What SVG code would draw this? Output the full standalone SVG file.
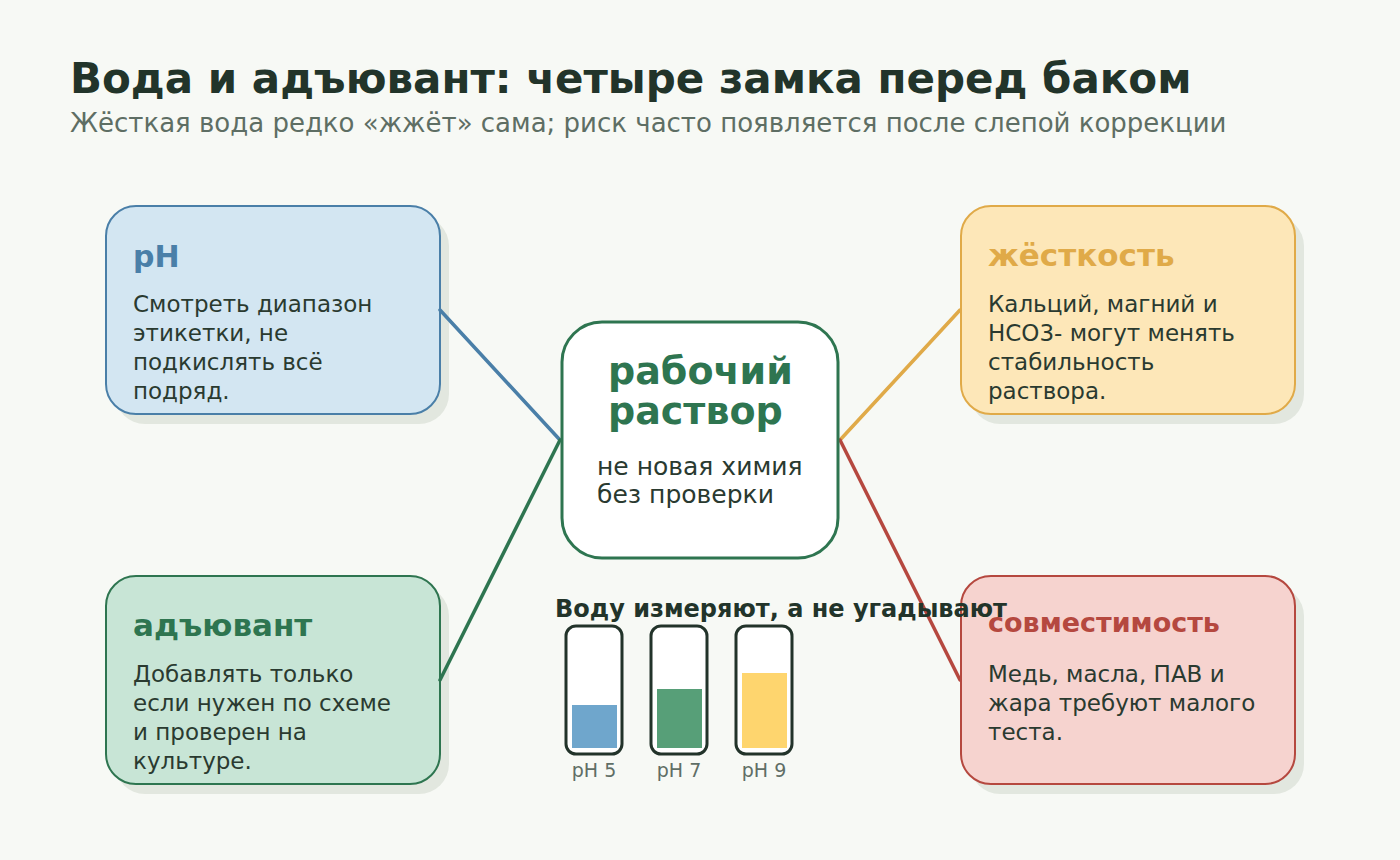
<svg xmlns="http://www.w3.org/2000/svg" width="1400" height="860" viewBox="0 0 1400 860">
<style>
text { font-family: "DejaVu Sans", "Liberation Sans", sans-serif; }
.title { font-size: 42px; font-weight: bold; fill: #22342a; }
.sub { font-size: 26px; fill: #5e6e64; }
.shadow { fill: #e2e7df; }
.body { font-size: 23px; fill: #2a3a30; }
.ntitle { font-weight: bold; }
.conn { fill: none; stroke-width: 3.5; stroke-linecap: round; }
.tube { fill: #ffffff; stroke: #22332a; stroke-width: 3; }
.tlabel { font-size: 19px; fill: #5f6e66; text-anchor: middle; }
</style>
<rect width="1400" height="860" fill="#f7f9f5"/>
<text class="title" x="70" y="93">Вода и адъювант: четыре замка перед баком</text>
<text class="sub" x="70" y="132">Жёсткая вода редко «жжёт» сама; риск часто появляется после слепой коррекции</text>

<g id="node-ph">
<rect class="shadow" x="115" y="216" width="334" height="208" rx="30"/>
<rect x="106" y="206" width="334" height="208" rx="30" fill="#d3e6f2" stroke="#4a7fa8" stroke-width="2"/>
<text class="ntitle" x="133" y="267" font-size="30" fill="#4a7fa8">pH</text>
<text class="body" x="133" y="312">Смотреть диапазон</text>
<text class="body" x="133" y="341">этикетки, не</text>
<text class="body" x="133" y="370">подкислять всё</text>
<text class="body" x="133" y="399">подряд.</text>
</g>

<g id="node-hardness">
<rect class="shadow" x="970" y="216" width="334" height="208" rx="30"/>
<rect x="961" y="206" width="334" height="208" rx="30" fill="#fde7b8" stroke="#e0aa48" stroke-width="2"/>
<text class="ntitle" x="988" y="266" font-size="31" fill="#e0aa48">жёсткость</text>
<text class="body" x="988" y="312">Кальций, магний и</text>
<text class="body" x="988" y="341">HCO3- могут менять</text>
<text class="body" x="988" y="370">стабильность</text>
<text class="body" x="988" y="399">раствора.</text>
</g>

<g id="node-adjuvant">
<rect class="shadow" x="115" y="586" width="334" height="208" rx="30"/>
<rect x="106" y="576" width="334" height="208" rx="30" fill="#c8e5d6" stroke="#2e7550" stroke-width="2"/>
<text class="ntitle" x="133" y="636" font-size="31" fill="#2e7550">адъювант</text>
<text class="body" x="133" y="682">Добавлять только</text>
<text class="body" x="133" y="711">если нужен по схеме</text>
<text class="body" x="133" y="740">и проверен на</text>
<text class="body" x="133" y="769">культуре.</text>
</g>

<g id="node-compat">
<rect class="shadow" x="970" y="586" width="334" height="208" rx="30"/>
<rect x="961" y="576" width="334" height="208" rx="30" fill="#f6d3cf" stroke="#b5483f" stroke-width="2"/>
<text class="ntitle" x="988" y="632" font-size="27" fill="#b5483f">совместимость</text>
<text class="body" x="988" y="682">Медь, масла, ПАВ и</text>
<text class="body" x="988" y="711">жара требуют малого</text>
<text class="body" x="988" y="740">теста.</text>
</g>

<g id="connectors">
<line class="conn" x1="440" y1="310" x2="560" y2="440" stroke="#4a7fa8"/>
<line class="conn" x1="440" y1="680" x2="560" y2="440" stroke="#2e7550"/>
<line class="conn" x1="960" y1="310" x2="840" y2="440" stroke="#e0aa48"/>
<line class="conn" x1="960" y1="680" x2="840" y2="440" stroke="#b5483f"/>
</g>

<g id="node-center">
<rect x="562" y="322" width="276" height="236" rx="40" fill="#ffffff" stroke="#2e7550" stroke-width="3"/>
<text x="608" y="384" font-size="38" font-weight="bold" fill="#2e7550">рабочий</text>
<text x="608" y="424" font-size="38" font-weight="bold" fill="#2e7550">раствор</text>
<text x="597" y="475" font-size="25" fill="#2a3a30">не новая химия</text>
<text x="597" y="503" font-size="25" fill="#2a3a30">без проверки</text>
</g>

<g id="gauges">
<text x="555" y="617" font-size="24" font-weight="bold" fill="#22342a">Воду измеряют, а не угадывают</text>
<rect class="tube" x="566" y="626" width="56" height="128" rx="10"/>
<rect x="572" y="705" width="45" height="43" fill="#6fa6cc"/>
<rect class="tube" x="651" y="626" width="56" height="128" rx="10"/>
<rect x="657" y="689" width="45" height="59" fill="#579f78"/>
<rect class="tube" x="736" y="626" width="56" height="128" rx="10"/>
<rect x="742" y="673" width="45" height="75" fill="#fed56e"/>
<text class="tlabel" x="594" y="777">pH 5</text>
<text class="tlabel" x="679" y="777">pH 7</text>
<text class="tlabel" x="764" y="777">pH 9</text>
</g>
</svg>
